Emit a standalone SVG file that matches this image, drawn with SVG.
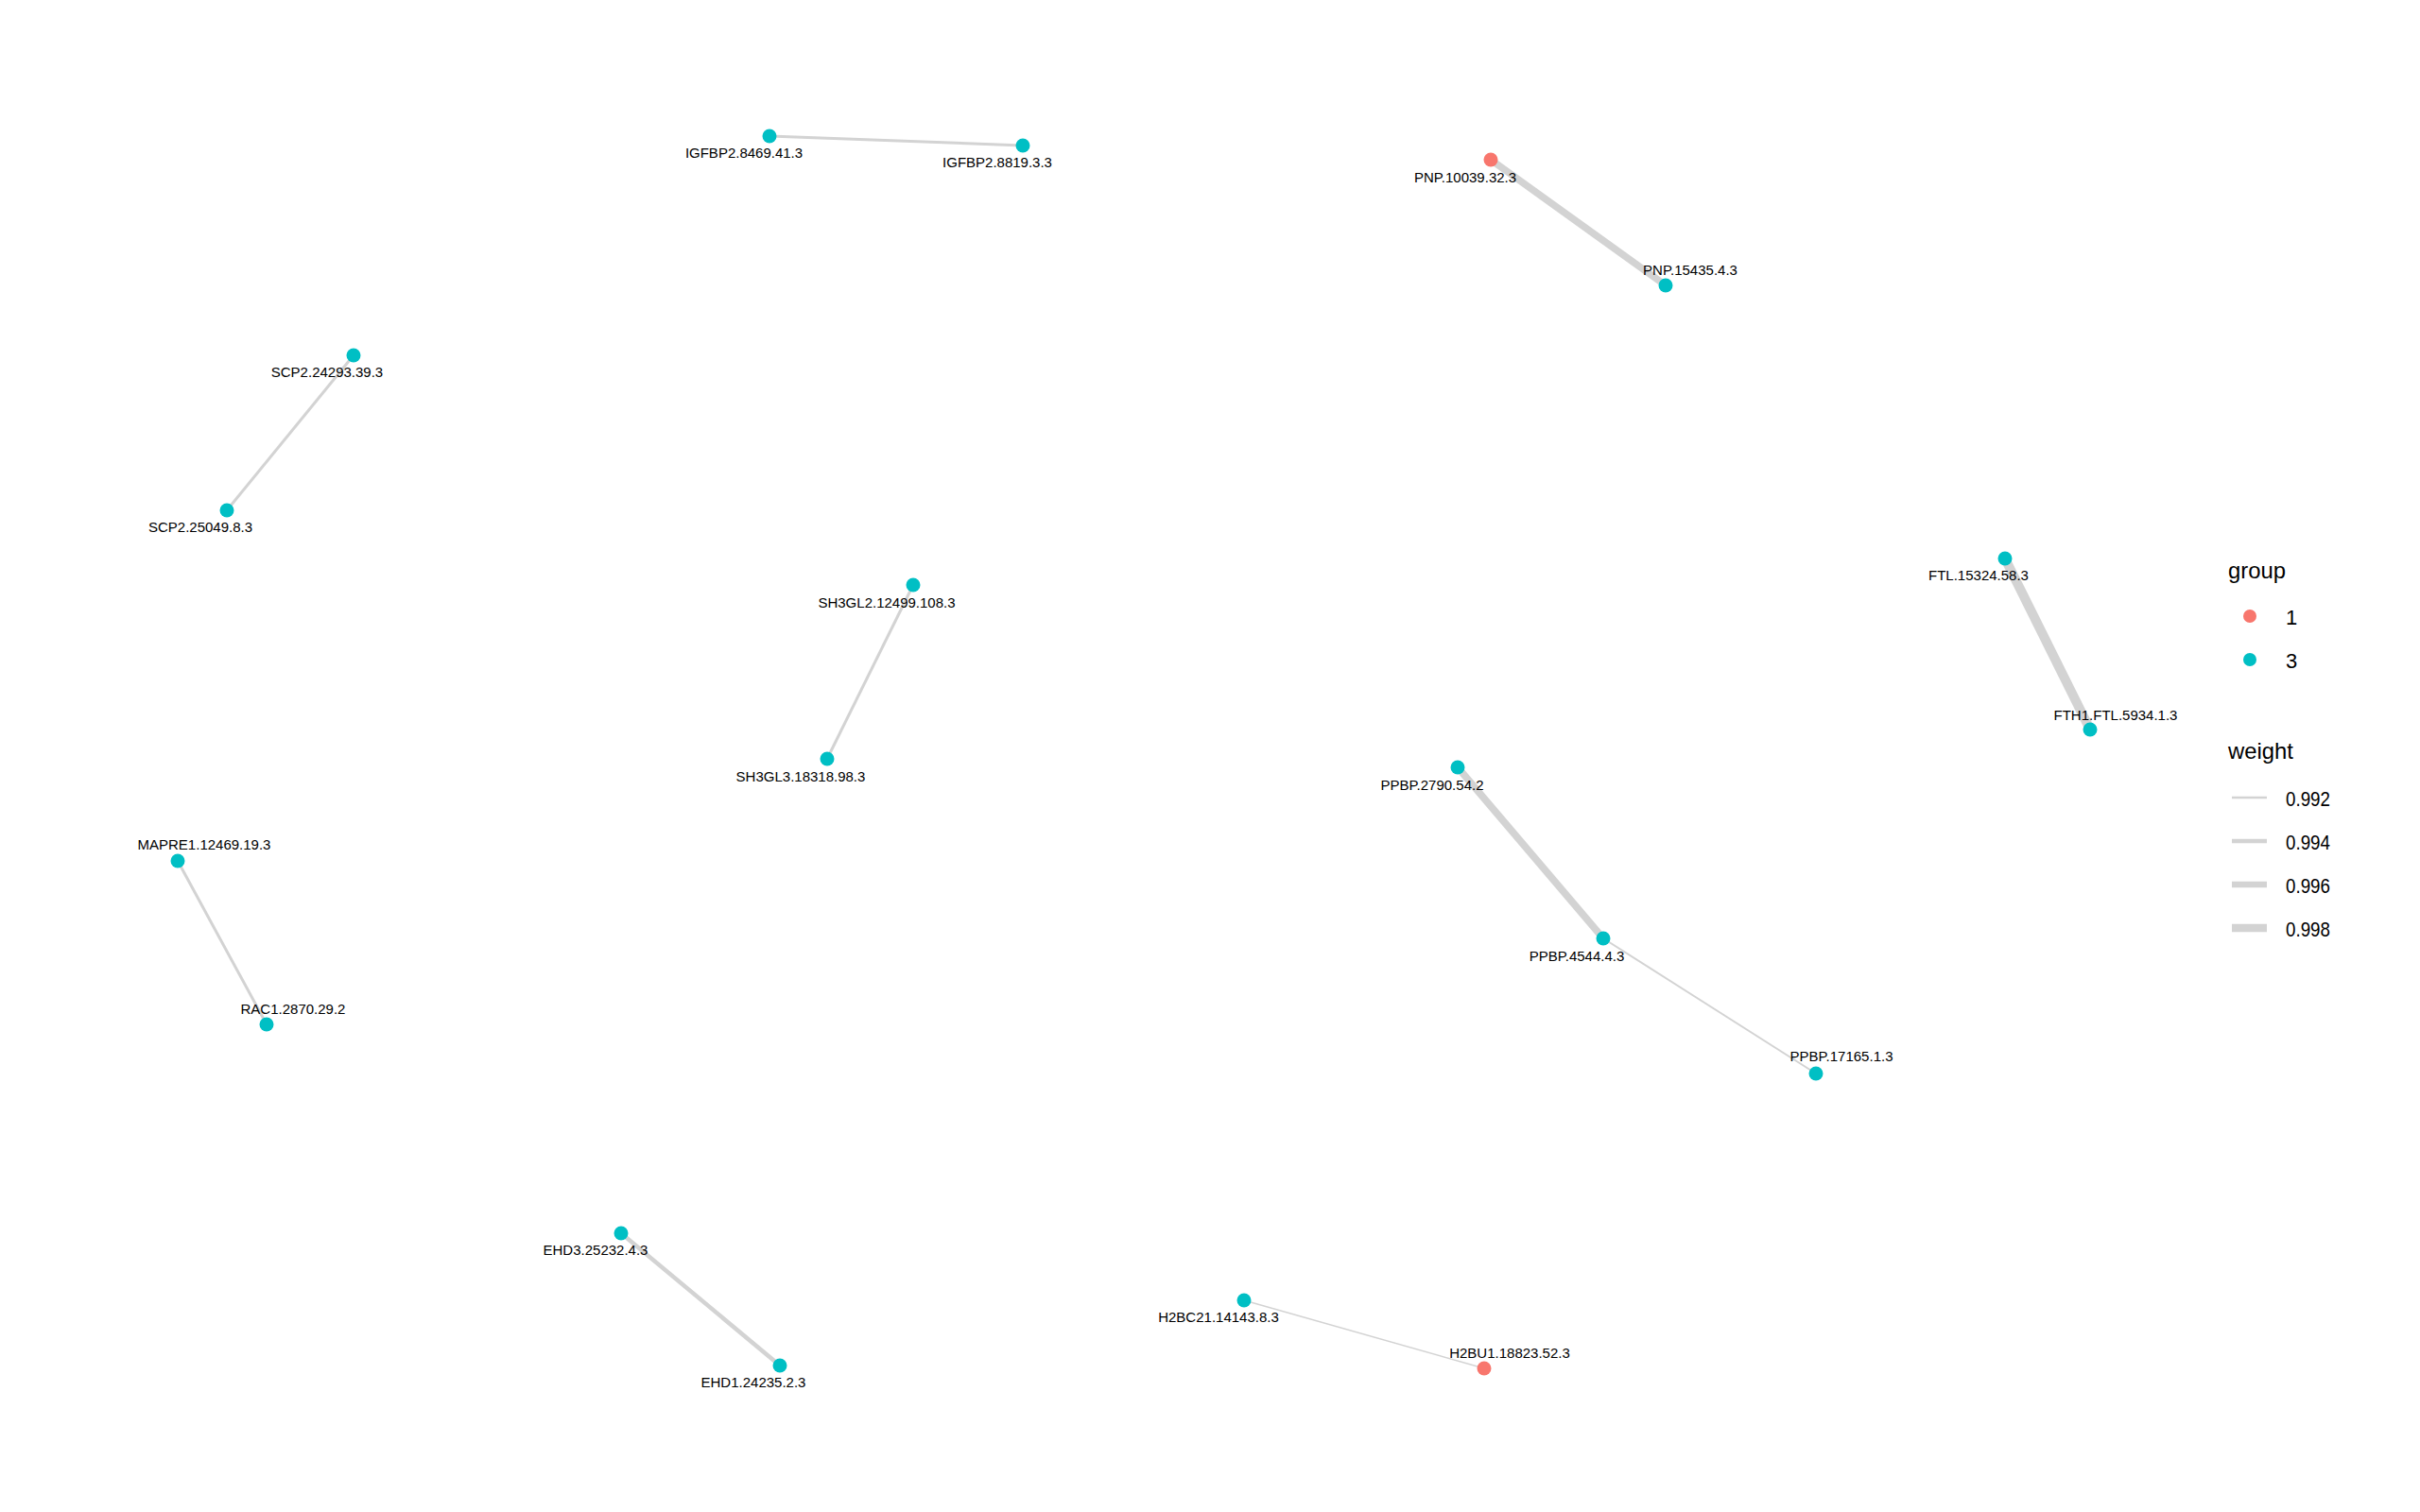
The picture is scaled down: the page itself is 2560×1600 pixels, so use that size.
<svg xmlns="http://www.w3.org/2000/svg" width="2560" height="1600" viewBox="0 0 2560 1600">
  <style>
    .edge { stroke: #D3D3D3; stroke-linecap: butt; fill: none; }
    .g1 { fill: #F8766D; }
    .g3 { fill: #00BFC4; }
    .lbl { font-family: "Liberation Sans", Arial, sans-serif; font-size: 15px; fill: #000; text-anchor: middle; }
    .leg { font-family: "Liberation Sans", Arial, sans-serif; font-size: 22px; fill: #000; }
    .legt { font-family: "Liberation Sans", Arial, sans-serif; font-size: 24px; fill: #000; }
  </style>
  <rect width="2560" height="1600" fill="#FFFFFF"/>

  <!-- connectors, width by weight -->
  <g id="edges">
    <line class="edge" x1="814" y1="144" x2="1082" y2="154" stroke-width="3"/>
    <line class="edge" x1="1577" y1="169" x2="1762" y2="302" stroke-width="7.5"/>
    <line class="edge" x1="374" y1="376" x2="240" y2="540" stroke-width="3"/>
    <line class="edge" x1="966" y1="619" x2="875" y2="803" stroke-width="3"/>
    <line class="edge" x1="2121" y1="591" x2="2211" y2="772" stroke-width="10"/>
    <line class="edge" x1="1542" y1="812" x2="1696" y2="993" stroke-width="7.5"/>
    <line class="edge" x1="1696" y1="993" x2="1921" y2="1136" stroke-width="2"/>
    <line class="edge" x1="188" y1="911" x2="282" y2="1084" stroke-width="3"/>
    <line class="edge" x1="657" y1="1305" x2="825" y2="1445" stroke-width="4.5"/>
    <line class="edge" x1="1316" y1="1376" x2="1570" y2="1448" stroke-width="1.5"/>
  </g>

  <g id="n-IGFBP2-8469"><circle class="g3" cx="814" cy="144" r="7.5"/><text class="lbl" x="787" y="167">IGFBP2.8469.41.3</text></g>
  <g id="n-IGFBP2-8819"><circle class="g3" cx="1082" cy="154" r="7.5"/><text class="lbl" x="1055" y="177">IGFBP2.8819.3.3</text></g>
  <g id="n-PNP-10039"><circle class="g1" cx="1577" cy="169" r="7.5"/><text class="lbl" x="1550" y="193">PNP.10039.32.3</text></g>
  <g id="n-PNP-15435"><circle class="g3" cx="1762" cy="302" r="7.5"/><text class="lbl" x="1788" y="291">PNP.15435.4.3</text></g>
  <g id="n-SCP2-24293"><circle class="g3" cx="374" cy="376" r="7.5"/><text class="lbl" x="346" y="399">SCP2.24293.39.3</text></g>
  <g id="n-SCP2-25049"><circle class="g3" cx="240" cy="540" r="7.5"/><text class="lbl" x="212" y="563">SCP2.25049.8.3</text></g>
  <g id="n-SH3GL2"><circle class="g3" cx="966" cy="619" r="7.5"/><text class="lbl" x="938" y="643">SH3GL2.12499.108.3</text></g>
  <g id="n-SH3GL3"><circle class="g3" cx="875" cy="803" r="7.5"/><text class="lbl" x="847" y="827">SH3GL3.18318.98.3</text></g>
  <g id="n-FTL"><circle class="g3" cx="2121" cy="591" r="7.5"/><text class="lbl" x="2093" y="614">FTL.15324.58.3</text></g>
  <g id="n-FTH1"><circle class="g3" cx="2211" cy="772" r="7.5"/><text class="lbl" x="2238" y="762">FTH1.FTL.5934.1.3</text></g>
  <g id="n-PPBP-2790"><circle class="g3" cx="1542" cy="812" r="7.5"/><text class="lbl" x="1515" y="836">PPBP.2790.54.2</text></g>
  <g id="n-PPBP-4544"><circle class="g3" cx="1696" cy="993" r="7.5"/><text class="lbl" x="1668" y="1017">PPBP.4544.4.3</text></g>
  <g id="n-PPBP-17165"><circle class="g3" cx="1921" cy="1136" r="7.5"/><text class="lbl" x="1948" y="1123">PPBP.17165.1.3</text></g>
  <g id="n-MAPRE1"><circle class="g3" cx="188" cy="911" r="7.5"/><text class="lbl" x="216" y="899">MAPRE1.12469.19.3</text></g>
  <g id="n-RAC1"><circle class="g3" cx="282" cy="1084" r="7.5"/><text class="lbl" x="310" y="1073">RAC1.2870.29.2</text></g>
  <g id="n-EHD3"><circle class="g3" cx="657" cy="1305" r="7.5"/><text class="lbl" x="630" y="1328">EHD3.25232.4.3</text></g>
  <g id="n-EHD1"><circle class="g3" cx="825" cy="1445" r="7.5"/><text class="lbl" x="797" y="1468">EHD1.24235.2.3</text></g>
  <g id="n-H2BC21"><circle class="g3" cx="1316" cy="1376" r="7.5"/><text class="lbl" x="1289" y="1399">H2BC21.14143.8.3</text></g>
  <g id="n-H2BU1"><circle class="g1" cx="1570" cy="1448" r="7.5"/><text class="lbl" x="1597" y="1437">H2BU1.18823.52.3</text></g>

  <!-- legend -->
  <g id="legend">
    <text class="legt" x="2357" y="612" textLength="61" lengthAdjust="spacingAndGlyphs">group</text>
    <circle class="g1" cx="2380" cy="652" r="7"/>
    <text class="leg" x="2418" y="661">1</text>
    <circle class="g3" cx="2380" cy="698" r="7"/>
    <text class="leg" x="2418" y="707">3</text>

    <text class="legt" x="2357" y="803" textLength="69" lengthAdjust="spacingAndGlyphs">weight</text>
    <line class="edge" x1="2361" y1="844" x2="2398" y2="844" stroke-width="2.7"/>
    <text class="leg" x="2418" y="853" textLength="47" lengthAdjust="spacingAndGlyphs">0.992</text>
    <line class="edge" x1="2361" y1="890" x2="2398" y2="890" stroke-width="4.7"/>
    <text class="leg" x="2418" y="899" textLength="47" lengthAdjust="spacingAndGlyphs">0.994</text>
    <line class="edge" x1="2361" y1="936" x2="2398" y2="936" stroke-width="6.7"/>
    <text class="leg" x="2418" y="945" textLength="47" lengthAdjust="spacingAndGlyphs">0.996</text>
    <line class="edge" x1="2361" y1="982" x2="2398" y2="982" stroke-width="8.5"/>
    <text class="leg" x="2418" y="991" textLength="47" lengthAdjust="spacingAndGlyphs">0.998</text>
  </g>
</svg>
